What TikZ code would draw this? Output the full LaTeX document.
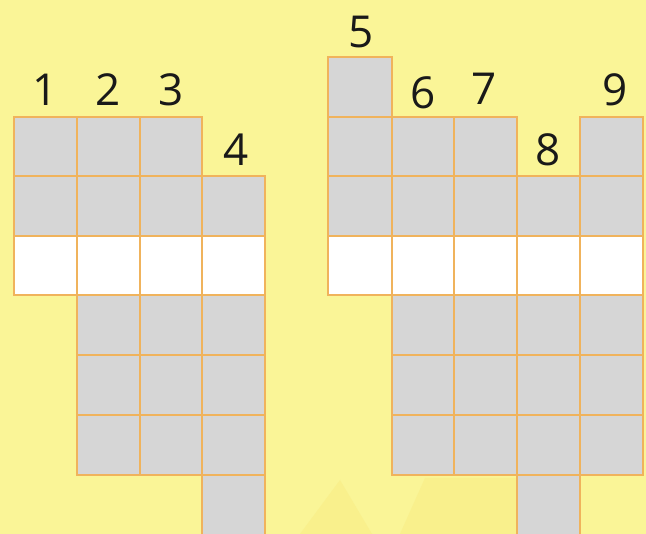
\documentclass[tikz,border=0pt]{standalone}
\usepackage{fontspec}
\setmainfont{Open Sans}
\definecolor{bg}{HTML}{FAF597}
\definecolor{bgshape}{HTML}{F9F08C}
\definecolor{cellgrey}{HTML}{D6D6D6}
\definecolor{gridline}{HTML}{F0B35C}
\begin{document}
\begin{tikzpicture}[x=1pt,y=-1pt,
  cellbox/.style={fill=cellgrey,draw=gridline,line width=1.5pt},
  whitebox/.style={fill=white,draw=gridline,line width=1.5pt},
  numlabel/.style={font=\fontsize{44}{44}\selectfont,text=black!90,inner sep=0pt}]
\useasboundingbox (0,0) rectangle (646,534);
\fill[bg] (0,0) rectangle (646,534);
% faint background shapes
\fill[bgshape] (300,534) -- (340,480) -- (372,534) -- cycle;
\fill[bgshape] (400,534) -- (425,478) -- (520,478) -- (520,534) -- cycle;
% left grid columns: 14,77,140,202,265
\foreach \xa/\xb/\top in {14/77/117, 77/140/117, 140/202/117, 202/265/176}{
  \foreach \ya/\yb in {57/117,117/176,176/236}{
    \ifdim \ya pt<\top pt\relax\else
      \path[cellbox] (\xa,\ya) rectangle (\xb,\yb);
    \fi
  }
}
\foreach \xa/\xb in {14/77,77/140,140/202,202/265}{
  \path[whitebox] (\xa,236) rectangle (\xb,295);
}
\foreach \xa/\xb/\bot in {77/140/475,140/202/475,202/265/536}{
  \foreach \ya/\yb in {295/355,355/415,415/475,475/536}{
    \ifdim \yb pt>\bot pt\relax\else
      \path[cellbox] (\xa,\ya) rectangle (\xb,\yb);
    \fi
  }
}
% right grid columns: 328,392,454,517,580,643
\foreach \xa/\xb/\top in {328/392/57, 392/454/117, 454/517/117, 517/580/176, 580/643/117}{
  \foreach \ya/\yb in {57/117,117/176,176/236}{
    \ifdim \ya pt<\top pt\relax\else
      \path[cellbox] (\xa,\ya) rectangle (\xb,\yb);
    \fi
  }
}
\foreach \xa/\xb in {328/392,392/454,454/517,517/580,580/643}{
  \path[whitebox] (\xa,236) rectangle (\xb,295);
}
\foreach \xa/\xb/\bot in {392/454/475,454/517/475,517/580/536,580/643/475}{
  \foreach \ya/\yb in {295/355,355/415,415/475,475/536}{
    \ifdim \yb pt>\bot pt\relax\else
      \path[cellbox] (\xa,\ya) rectangle (\xb,\yb);
    \fi
  }
}
% labels
\node[numlabel] (l1) at (45,90) {1};
\node[numlabel] (l2) at (108,90) {2};
\node[numlabel] (l3) at (171,90) {3};
\node[numlabel] (l4) at (236,150) {4};
\node[numlabel] (l5) at (361,32) {5};
\node[numlabel] (l6) at (423,93) {6};
\node[numlabel] (l7) at (484,89) {7};
\node[numlabel] (l8) at (548,150) {8};
\node[numlabel] (l9) at (615,90) {9};
\end{tikzpicture}
\end{document}
